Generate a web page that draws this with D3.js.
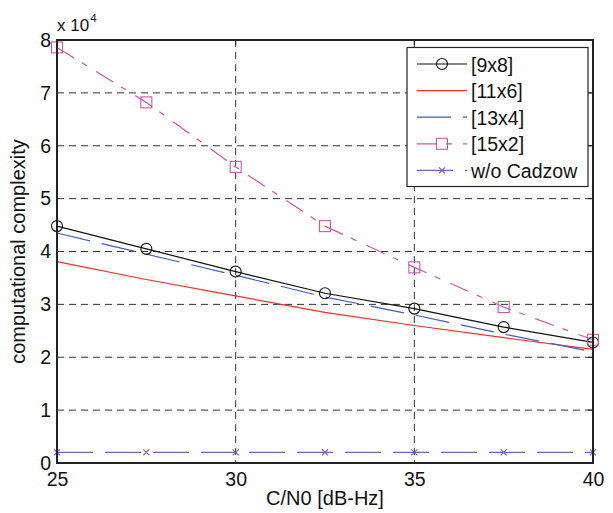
<!DOCTYPE html>
<html><head><meta charset="utf-8">
<script src="https://cdn.jsdelivr.net/npm/d3@7"></script>
<style>body{margin:0;background:#fff}text{font-family:"Liberation Sans",Arial,sans-serif}</style>
</head><body><svg id="c" width="613" height="513"></svg>
<script>
const snr = [25, 27.5, 30, 32.5, 35, 37.5, 40];
const s9x8 = [4.48, 4.05, 3.62, 3.21, 2.92, 2.57, 2.28];
const s11x6 = [3.81, 3.47, 3.16, 2.85, 2.60, 2.37, 2.15];
const s13x4 = [4.35, 3.95, 3.55, 3.14, 2.80, 2.44, 2.10];
const s15x2 = [7.86, 6.82, 5.60, 4.48, 3.70, 2.95, 2.33];
const sNo = [0.2, 0.2, 0.2, 0.2, 0.2, 0.2, 0.2];
const xTicks = [25, 30, 35, 40];
const yTicks = [0, 1, 2, 3, 4, 5, 6, 7, 8];
const names = ["[9x8]", "[11x6]", "[13x4]", "[15x2]", "w/o Cadzow"];

const series = [
  {name: names[0], v: s9x8, color: "#111", dash: null, marker: "o"},
  {name: names[1], v: s11x6, color: "#ff2a2a", dash: null, marker: null},
  {name: names[2], v: s13x4, color: "#3c60c0", dash: "34,12", marker: null},
  {name: names[3], v: s15x2, color: "#cc55b4", dash: "20,9,6,11", marker: "s"},
  {name: names[4], v: sNo, color: "#7a5cc8", dash: "36,12", marker: "x"}
];

const svg = d3.select("#c");
const L = 57, R = 593, T = 40, B = 463;
const x = d3.scaleLinear().domain([25, 40]).range([L, R]);
const y = d3.scaleLinear().domain([0, 8]).range([B, T]);
const FONT = "Liberation Sans, Arial, sans-serif";

// grid
const g = svg.append("g");
g.selectAll(".gx").data(xTicks.slice(1, -1)).enter().append("line")
  .attr("x1", d => x(d)).attr("x2", d => x(d)).attr("y1", T).attr("y2", B)
  .attr("stroke", "#333").attr("stroke-width", 1).attr("stroke-dasharray", "7,5");
g.selectAll(".gy").data(yTicks.slice(1, -1)).enter().append("line")
  .attr("x1", L).attr("x2", R).attr("y1", d => y(d)).attr("y2", d => y(d))
  .attr("stroke", "#333").attr("stroke-width", 1).attr("stroke-dasharray", "7,5");

// axes with labels
const xa = svg.append("g").attr("transform", `translate(0,${B})`)
  .call(d3.axisBottom(x).tickValues(xTicks).tickSize(0).tickPadding(9));
xa.select(".domain").remove();
xa.selectAll("text").attr("font-size", 19.5).attr("fill", "#111").style("font-family", FONT);
const ya = svg.append("g").attr("transform", `translate(${L},0)`)
  .call(d3.axisLeft(y).tickValues(yTicks).tickSize(0).tickPadding(6));
ya.select(".domain").remove();
ya.selectAll("text").attr("font-size", 19.5).attr("fill", "#111").style("font-family", FONT);

// ticks inside on right & top
svg.selectAll(".rt").data(yTicks).enter().append("line")
  .attr("x1", R - 5).attr("x2", R).attr("y1", d => y(d)).attr("y2", d => y(d)).attr("stroke", "#222");
svg.selectAll(".tt").data(xTicks).enter().append("line")
  .attr("x1", d => x(d)).attr("x2", d => x(d)).attr("y1", T).attr("y2", T + 5).attr("stroke", "#222");

// series lines
const line = d3.line().x((d, i) => x(snr[i])).y(d => y(d));
series.forEach(s => {
  svg.append("path").datum(s.v).attr("d", line).attr("fill", "none")
    .attr("stroke", s.color).attr("stroke-width", 1.2)
    .attr("stroke-dasharray", s.dash);
});

function drawMarker(sel, type, cx, cy, color) {
  if (type === "o") sel.append("circle").attr("cx", cx).attr("cy", cy).attr("r", 5.5)
    .attr("fill", "none").attr("stroke", color).attr("stroke-width", 1.1);
  if (type === "s") sel.append("rect").attr("x", cx - 5.5).attr("y", cy - 5.5).attr("width", 11).attr("height", 11)
    .attr("fill", "none").attr("stroke", color).attr("stroke-width", 1.1);
  if (type === "x") sel.append("path").attr("d", `M${cx-3},${cy-3}L${cx+3},${cy+3}M${cx-3},${cy+3}L${cx+3},${cy-3}`)
    .attr("stroke", color).attr("stroke-width", 1.1);
}
series.forEach(s => {
  if (!s.marker) return;
  s.v.forEach((d, i) => drawMarker(svg, s.marker, x(snr[i]), y(d), s.color));
});

// frame
svg.append("rect").attr("x", L).attr("y", T).attr("width", R - L).attr("height", B - T)
  .attr("fill", "none").attr("stroke", "#222").attr("stroke-width", 2);

// exponent
const ex = svg.append("text").attr("x", 57).attr("y", 31).attr("font-size", 17).attr("fill", "#111");
ex.append("tspan").text("x 10");
ex.append("tspan").attr("font-size", 11.5).attr("dy", -9).attr("dx", 1).text("4");

// axis titles
svg.append("text").attr("x", (L + R) / 2).attr("y", 505).attr("text-anchor", "middle")
  .attr("font-size", 20).attr("fill", "#111").text("C/N0 [dB-Hz]");
svg.append("text").attr("transform", `translate(25,${(T + B) / 2}) rotate(-90)`).attr("text-anchor", "middle")
  .attr("font-size", 20).attr("fill", "#111").text("computational complexity");

// legend
const lg = svg.append("g");
lg.append("rect").attr("x", 407).attr("y", 47.5).attr("width", 181).attr("height", 139)
  .attr("fill", "#fff").attr("stroke", "#222").attr("stroke-width", 1.2);
series.forEach((s, i) => {
  const ly = 64 + i * 26.6;
  lg.append("line").attr("x1", 417).attr("x2", 467).attr("y1", ly).attr("y2", ly)
    .attr("stroke", s.color).attr("stroke-width", 1.2).attr("stroke-dasharray", s.dash);
  if (s.marker) drawMarker(lg, s.marker, 442, ly, s.color);
  lg.append("text").attr("x", 471).attr("y", ly + 7.5).attr("font-size", 19.5).attr("fill", "#111").text(s.name);
});
</script></body></html>
